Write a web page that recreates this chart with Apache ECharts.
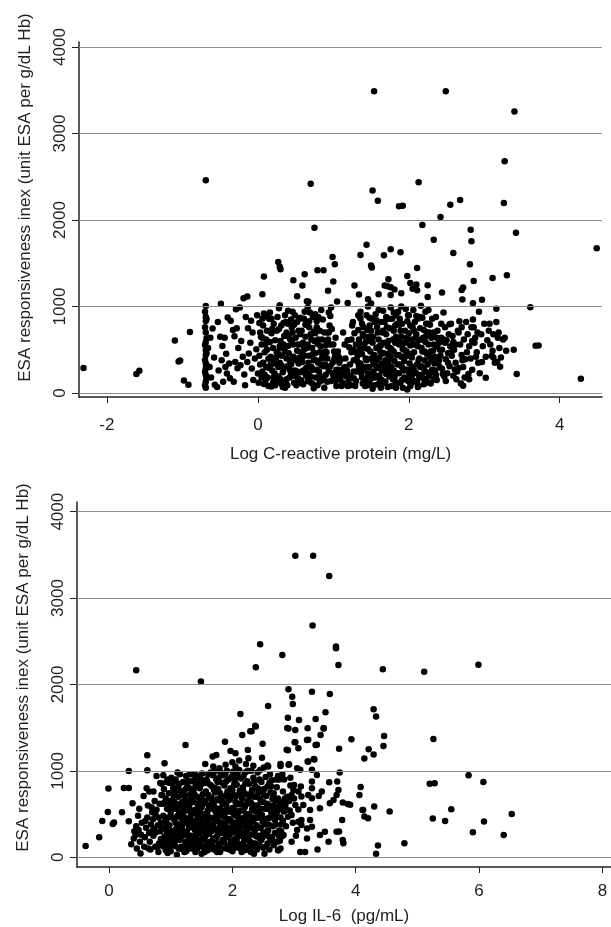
<!DOCTYPE html>
<html>
<head>
<meta charset="utf-8">
<script src="https://cdn.jsdelivr.net/npm/echarts@6/dist/echarts.min.js"></script>
<style>
  html, body { margin: 0; padding: 0; background: #fff; }
  #main { width: 611px; height: 927px; }
</style>
</head>
<body>
<div id="main"></div>
<script>
// tick labels
var crpTicks = [-2, 0, 2, 4];
var il6Ticks = [0, 2, 4, 6, 8];
var esaTicks = [0, 1000, 2000, 3000, 4000];

// top panel: log CRP vs ESA responsiveness
var crpSparse = [
  [1.54,3490],[2.49,3490],[3.40,3254],[-0.69,2461],[0.70,2419],[3.27,2680],[2.13,2438],[1.52,2342],
  [1.59,2223],[2.68,2231],[2.55,2177],[3.26,2196],[1.87,2158],[1.92,2165],[2.42,2035],[2.18,1942],
  [0.75,1911],[2.82,1888],[3.42,1854],[2.33,1773],[2.83,1754],[1.44,1715],[1.76,1661],[4.49,1673],
  [2.59,1619],[1.89,1627],[1.36,1596],[1.67,1592],[0.99,1573],[0.27,1515],[1.02,1488],[0.29,1461],
  [1.50,1473],[1.51,1450],[2.81,1488],[0.30,1430],[0.79,1419],[0.87,1419],[2.11,1446],[0.08,1346],
  [0.62,1373],[3.30,1361],[3.11,1331],[1.98,1354],[1.73,1315],[0.47,1304],[1.00,1288],[2.86,1296],
  [2.02,1273],[2.25,1246],[1.28,1242],[0.59,1242],[1.68,1242],[1.76,1223],[2.72,1219],[2.70,1192],
  [2.05,1204],[0.93,1181],[-0.14,1115],[-0.19,1096],[0.06,1142],[1.60,1142],[1.34,1138],[1.90,1154],
  [2.44,1161],[0.52,1119],[1.76,1134],[2.97,1077],[2.71,1081],[0.65,1061],[1.05,1058],[1.46,1085],
  [2.85,1038],[3.16,973],[3.61,992],[-0.49,1031],[1.81,1196],[2.10,1254],[1.72,1234],[2.11,1188],
  [1.50,1035],[1.19,1042],[0.29,1015],[0.67,1054],[2.25,1111],
  [-2.31,288],[-1.61,219],[-1.57,258],[-1.10,608],[-1.05,365],[-1.03,377],[-0.90,704],[-0.98,146],
  [-0.92,96],[3.72,550],[3.43,219],[4.28,165],[3.39,500],[3.02,177],[3.25,619],[3.21,304],[3.12,412],[3.68,546]
];
var crpDense = [
  [-0.69,1006],[-0.70,940],[-0.69,880],[-0.68,855],[-0.69,832],[-0.70,760],[-0.69,700],[-0.68,632],
  [-0.69,590],[-0.70,555],[-0.69,497],[-0.68,460],[-0.69,439],[-0.70,381],[-0.69,340],[-0.68,324],
  [-0.69,285],[-0.70,246],[-0.69,208],[-0.68,170],[-0.69,131],[-0.70,90],[-0.69,60],
  [-0.64,300],[-0.62,180],[-0.60,745],[-0.58,410],[-0.66,520],[-0.57,95],[-0.63,640],
  [-0.53,820],[-0.50,650],[-0.47,545],[-0.52,260],[-0.46,130],[-0.54,70],[-0.48,380],
  [-0.44,640],[-0.40,873],[-0.36,835],[-0.42,455],[-0.38,340],[-0.41,225],[-0.37,170],[-0.43,300],
  [-0.33,728],[-0.31,655],[-0.28,750],[-0.30,360],[-0.27,285],[-0.32,130],[-0.26,520],[-0.29,968],
  [-0.24,990],[-0.22,600],[-0.20,420],[-0.18,215],[-0.16,880],[-0.23,320],[-0.17,90],
  [-0.13,750],[-0.09,835],[-0.10,580],[-0.12,457],[-0.08,283],[-0.06,150],[-0.14,360],[-0.07,700],
  [-0.02,505],[0.00,226],[0.02,810],[0.04,650],[-0.04,400],[0.01,120],[0.03,330],[-0.01,900],[0.05,560],
  [0.07,780],[0.09,470],[0.11,300],[0.13,180],[0.06,640],[0.12,720],[0.14,395],[0.08,105],[0.10,560],
  [0.15,860],[0.06,250],[0.07,350],[0.13,880],[0.09,210],
  [0.16,930],[0.18,690],[0.20,520],[0.22,340],[0.24,150],[0.17,420],[0.19,260],[0.23,610],[0.21,800],
  [0.25,470],[0.18,75],[0.16,590],[0.22,230],[0.20,120],
  [0.26,880],[0.28,740],[0.30,600],[0.32,430],[0.34,280],[0.27,190],[0.29,350],[0.33,520],[0.35,660],
  [0.31,110],[0.28,980],[0.34,810],[0.30,160],[0.26,480],[0.33,70],
  [0.36,900],[0.38,700],[0.40,545],[0.42,380],[0.44,230],[0.37,130],[0.39,310],[0.43,620],[0.45,760],
  [0.41,460],[0.36,60],[0.44,850],[0.38,400],[0.42,180],[0.40,950],
  [0.46,940],[0.48,790],[0.50,640],[0.52,490],[0.54,340],[0.47,200],[0.49,260],[0.53,560],[0.55,410],
  [0.51,90],[0.46,700],[0.53,170],[0.50,380],[0.48,120],[0.55,860],
  [0.56,870],[0.58,720],[0.60,580],[0.62,430],[0.64,290],[0.57,150],[0.59,360],[0.63,650],[0.65,800],
  [0.61,500],[0.57,240],[0.62,940],[0.60,100],[0.58,470],[0.64,200],[0.56,680],
  [0.66,990],[0.68,830],[0.70,680],[0.72,520],[0.74,380],[0.67,230],[0.69,130],[0.73,450],[0.75,600],
  [0.71,300],[0.68,760],[0.74,55],[0.70,190],[0.66,560],[0.73,880],
  [0.76,910],[0.78,760],[0.80,620],[0.82,470],[0.84,320],[0.77,180],[0.79,90],[0.83,540],[0.85,400],
  [0.81,250],[0.76,690],[0.84,960],[0.80,350],[0.82,130],[0.78,830],
  [0.86,850],[0.88,700],[0.90,550],[0.92,400],[0.94,260],[0.87,150],[0.89,330],[0.93,620],[0.95,780],
  [0.91,470],[0.88,60],[0.94,930],[0.90,210],[0.86,420],[0.92,700],
  [0.96,890],[0.98,740],[1.00,560],[1.02,420],[1.04,270],[0.97,140],[0.99,350],[1.03,640],[1.05,200],
  [1.01,480],[0.97,990],[1.00,200],[0.96,310],[1.04,80],
  [1.06,480],[1.08,350],[1.10,210],[1.12,120],[1.14,290],[1.07,420],[1.09,160],[1.13,700],[1.15,560],[1.11,80],
  [1.16,400],[1.18,260],[1.20,130],[1.22,330],[1.24,470],[1.17,190],[1.19,610],[1.23,90],[1.25,780],[1.21,530],
  [1.26,820],[1.28,690],[1.30,560],[1.32,430],[1.34,300],[1.27,170],[1.29,80],[1.33,730],[1.35,880],
  [1.31,380],[1.27,250],[1.34,620],[1.30,140],[1.26,500],[1.33,350],
  [1.36,940],[1.38,800],[1.40,660],[1.42,520],[1.44,380],[1.37,230],[1.39,110],[1.43,590],[1.45,730],
  [1.41,300],[1.38,450],[1.44,170],[1.36,860],[1.40,270],[1.37,560],[1.42,80],
  [1.46,1000],[1.48,870],[1.50,720],[1.52,580],[1.54,440],[1.47,300],[1.49,160],[1.53,650],[1.55,360],
  [1.51,220],[1.46,510],[1.54,90],[1.48,780],[1.52,50],[1.50,400],[1.47,120],[1.53,250],
  [1.56,910],[1.58,760],[1.60,620],[1.62,480],[1.64,340],[1.57,200],[1.59,100],[1.63,550],[1.65,700],
  [1.61,410],[1.57,840],[1.64,260],[1.60,960],[1.62,150],[1.60,300],[1.57,520],[1.63,60],
  [1.66,950],[1.68,820],[1.70,680],[1.72,540],[1.74,400],[1.67,260],[1.69,130],[1.73,600],[1.75,750],
  [1.71,320],[1.67,460],[1.74,190],[1.70,880],[1.72,70],[1.70,220],[1.67,580],[1.73,350],
  [1.76,990],[1.78,860],[1.80,720],[1.82,580],[1.84,440],[1.77,300],[1.79,160],[1.83,650],[1.85,800],
  [1.81,370],[1.77,510],[1.84,230],[1.80,930],[1.82,100],[1.80,260],[1.76,420],[1.83,60],
  [1.86,940],[1.88,790],[1.90,650],[1.92,510],[1.94,370],[1.87,230],[1.89,120],[1.93,580],[1.95,720],
  [1.91,300],[1.87,440],[1.94,180],[1.90,1000],[1.92,60],[1.88,860],[1.90,420],[1.86,620],[1.93,260],
  [1.96,970],[1.98,830],[2.00,690],[2.02,550],[2.04,410],[1.97,270],[1.99,140],[2.03,620],[2.05,760],
  [2.01,340],[1.97,480],[2.04,200],[2.00,900],[2.02,80],[1.98,40],[2.00,240],[1.96,580],[2.03,110],
  [2.06,960],[2.08,820],[2.10,680],[2.12,540],[2.14,400],[2.07,260],[2.09,130],[2.13,610],[2.15,750],
  [2.11,330],[2.07,470],[2.14,190],[2.10,890],[2.12,70],[2.10,230],[2.06,560],[2.13,80],
  [2.16,1010],[2.18,870],[2.20,730],[2.22,590],[2.24,450],[2.17,310],[2.19,170],[2.23,660],[2.25,800],
  [2.21,380],[2.17,520],[2.24,240],[2.20,100],[2.22,940],[2.20,280],[2.16,620],[2.23,140],
  [2.26,960],[2.28,790],[2.30,640],[2.32,490],[2.34,340],[2.27,200],[2.29,110],[2.33,560],[2.35,420],
  [2.31,270],[2.27,700],[2.30,380],[2.26,560],[2.33,160],
  [2.36,880],[2.38,720],[2.40,580],[2.42,430],[2.44,280],[2.37,150],[2.39,360],[2.43,640],[2.45,220],[2.41,500],[2.36,208],
  [2.46,930],[2.48,760],[2.50,610],[2.52,460],[2.54,310],[2.47,190],[2.49,390],[2.53,680],[2.55,540],[2.54,796],
  [2.56,800],[2.58,660],[2.60,500],[2.62,350],[2.64,250],[2.57,430],[2.59,590],[2.63,160],[2.65,720],[2.61,273],
  [2.66,700],[2.68,560],[2.70,440],[2.72,300],[2.74,180],[2.67,830],[2.69,110],[2.73,620],[2.71,380],[2.72,85],
  [2.76,820],[2.78,680],[2.80,540],[2.82,400],[2.84,270],[2.77,470],[2.79,220],[2.83,760],[2.85,850],
  [2.86,760],[2.88,640],[2.90,470],[2.92,350],[2.94,230],[2.87,580],[2.89,420],[2.93,940],[2.91,700],
  [2.96,680],[2.98,540],[3.00,800],[3.02,420],[3.04,610],[2.97,360],
  [3.06,720],[3.08,560],[3.10,430],[3.12,680],[3.14,350],[3.07,800],[3.11,490],
  [3.16,820],[3.18,640],[3.20,520],[3.22,410],[3.17,360],[3.19,700],[3.27,640],[3.29,490]
];
var crpDenseMore = [
  [0.03,700],[0.05,180],[0.08,920],[0.11,620],[0.14,80],[0.17,330],[0.19,740],[0.21,180],[0.24,410],
  [0.27,300],[0.29,540],[0.31,780],[0.33,240],[0.36,480],[0.38,160],[0.40,800],[0.42,270],[0.45,590],
  [0.47,420],[0.49,900],[0.52,250],[0.54,720],[0.56,130],[0.58,390],[0.61,860],[0.63,230],[0.65,520],
  [0.67,350],[0.69,930],[0.72,110],[0.74,710],[0.76,460],[0.78,270],[0.80,880],[0.83,190],[0.85,620],
  [0.87,310],[0.89,480],[0.92,130],[0.94,700],[0.96,560],[0.99,230],[1.01,380],[1.03,140],[1.07,270],
  [1.10,390],[1.13,220],[1.16,300],[1.19,80],[1.22,200],[1.24,620],[1.27,380],[1.29,480],[1.31,250],
  [1.33,900],[1.36,340],[1.38,180],[1.40,760],[1.43,400],[1.45,90],[1.47,650],[1.49,480],[1.51,860],
  [1.53,330],[1.55,180],[1.57,380],[1.59,700],[1.61,200],[1.63,820],[1.65,460],[1.67,120],[1.69,380],
  [1.71,760],[1.73,250],[1.75,520],[1.77,80],[1.79,620],[1.81,180],[1.83,900],[1.85,330],[1.87,560],
  [1.89,720],[1.91,150],[1.93,420],[1.95,270],[1.97,640],[1.99,900],[2.01,180],[2.03,450],[2.05,300],
  [2.07,720],[2.09,560],[2.11,140],[2.13,380],[2.15,880],[2.17,210],[2.19,640],[2.21,480],[2.23,800],
  [2.25,330],[2.27,120],[2.29,480],[2.31,860],[2.33,700],[2.35,260],[2.37,540],[2.40,380],[2.43,800],
  [2.46,620],[2.49,140],[2.52,350],[2.56,470],[2.59,200],[2.62,560],[2.66,290],[2.70,760],[2.75,390],
  [2.80,160],[2.84,600],
  [0.02,430],[0.06,860],[0.10,140],[0.12,500],[0.15,290],[0.18,860],[0.21,380],[0.23,90],[0.25,720],
  [0.28,440],[0.31,320],[0.34,560],[0.37,820],[0.39,90],[0.41,650],[0.44,330],[0.47,560],[0.50,220],
  [0.52,820],[0.55,120],[0.57,560],[0.60,260],[0.63,790],[0.66,140],[0.68,430],[0.71,620],[0.73,270],
  [0.77,380],[0.79,570],[0.82,720],[0.85,150],[0.88,420],[0.91,600],[0.93,300],[1.35,500],[1.39,680],
  [1.41,140],[1.44,900],[1.46,230],[1.49,600],[1.52,380],[1.55,820],[1.58,290],[1.61,540],[1.64,150],
  [1.66,720],[1.69,300],[1.72,450],[1.74,860],[1.77,200],[1.80,480],[1.82,780],[1.85,120],[1.88,330],
  [1.91,800],[1.94,500],[1.96,160],[1.99,430],[2.02,780],[2.04,300],[2.07,140],[2.09,640],[2.12,860],
  [2.15,300],[2.18,480],[2.21,160],[2.24,700],[2.28,420],[2.32,240],[2.37,640],[2.41,300],[2.44,500],
  [2.48,580],[2.51,230]
];

// bottom panel: log IL-6 vs ESA responsiveness
var il6Sparse = [
  [3.02,3490],[3.31,3490],[3.57,3255],[3.30,2681],[2.45,2465],[3.68,2438],[3.68,2418],[2.81,2341],
  [3.72,2225],[5.99,2229],[2.38,2198],[4.44,2175],[0.44,2164],[5.11,2148],[1.49,2033],[2.91,1944],
  [3.29,1917],[3.58,1890],[2.97,1859],[2.98,1774],[2.58,1751],[4.29,1712],[3.51,1678],[2.13,1658],
  [4.33,1628],[2.90,1616],[3.08,1589],[3.35,1601],[2.38,1512],[3.22,1493],[3.48,1489],[2.91,1489],
  [3.02,1473],[2.29,1458],[2.16,1416],[3.43,1416],[4.46,1404],[5.26,1369],[3.93,1365],[3.21,1358],
  [3.02,1331],[1.88,1338],[1.24,1300],[2.49,1315],[3.35,1300],[4.45,1288],[4.21,1250],[3.73,1257],
  [2.25,1242],[2.90,1238],[3.07,1261],[1.97,1230],[2.05,1203],[4.29,1188],[0.62,1180],[1.68,1165],
  [1.74,1184],[2.48,1153],[4.14,1142],[2.26,1146],[3.33,1130],[3.22,1107],[1.56,1080],[2.92,1076],
  [0.90,1088],[2.57,1061],[2.78,1057],[3.05,1030],[0.32,999],[0.62,1007],[5.83,949],[6.07,872],
  [5.20,852],[5.28,856],[3.74,980],[4.08,814],[-0.01,795],[0.24,802],[0.32,802],[6.53,501],
  [5.55,555],[4.55,528],[4.12,548],[4.30,586],[6.08,413],[5.25,447],[5.45,420],[4.14,471],[4.20,451],
  [5.90,289],[6.40,258],[4.79,162],[4.36,135],[4.33,39],[-0.38,131],[-0.16,231],[-0.11,420],[0.08,401],
  [-0.02,525],[0.21,521],[0.32,416],[0.38,625],[0.56,710],[3.79,633],[3.87,617],[3.91,609],[3.78,432],
  [3.73,297],[3.79,200],[3.80,162],[0.06,384],[4.06,721],[4.11,547],[2.89,1496],[3.01,1330],[3.23,1360],
  [3.37,1302],[2.31,1457],[2.37,1523],[3.48,1496],[2.88,1244],[2.91,1070],[3.23,1109],[3.32,1136],
  [2.78,1078],[2.58,1050],[2.34,1058],[3.10,1012],[3.29,1012]
];
var il6Dense = [
  [0.40,217],[0.43,256],[0.44,360],[0.45,101],[0.41,300],[0.36,150],
  [0.48,314],[0.51,43],[0.50,180],[0.53,400],[0.47,480],[0.52,260],[0.49,560],
  [0.57,120],[0.60,340],[0.62,460],[0.64,101],[0.58,230],[0.63,600],[0.61,800],[0.59,420],[0.65,280],
  [0.66,180],[0.68,380],[0.70,520],[0.72,250],[0.74,650],[0.67,90],[0.71,440],[0.73,330],[0.75,120],
  [0.69,580],[0.72,760],
  [0.76,290],[0.78,120],[0.80,460],[0.82,620],[0.84,210],[0.77,550],[0.79,370],[0.83,860],[0.85,720],
  [0.81,160],[0.77,940],[0.84,400],[0.80,60],
  [0.86,330],[0.88,480],[0.90,240],[0.92,680],[0.94,560],[0.87,130],[0.89,790],[0.93,400],[0.95,900],
  [0.91,180],[0.87,620],[0.94,290],[0.88,950],[0.92,80],
  [0.96,220],[0.98,370],[1.00,520],[1.02,660],[1.04,800],[0.97,130],[0.99,600],[1.03,300],[1.05,440],
  [1.01,920],[0.97,740],[1.04,170],[1.00,70],[0.98,860],[1.02,250],[1.05,560],
  [1.06,260],[1.08,400],[1.10,560],[1.12,700],[1.14,850],[1.07,130],[1.09,330],[1.13,470],[1.15,620],
  [1.11,980],[1.07,760],[1.14,200],[1.10,30],[1.08,900],[1.12,290],[1.15,380],[1.06,640],[1.13,100],
  [1.16,210],[1.18,350],[1.20,500],[1.22,650],[1.24,790],[1.17,120],[1.19,430],[1.23,280],[1.25,940],
  [1.21,570],[1.17,720],[1.24,170],[1.20,870],[1.22,60],[1.18,270],[1.25,400],[1.16,600],[1.23,720],
  [1.26,300],[1.28,440],[1.30,590],[1.32,730],[1.34,880],[1.27,150],[1.29,370],[1.33,510],[1.35,220],
  [1.31,960],[1.27,660],[1.34,100],[1.30,800],[1.32,250],[1.28,540],[1.35,420],[1.26,90],[1.33,640],[1.29,190],
  [1.36,250],[1.38,400],[1.40,550],[1.42,700],[1.44,850],[1.37,120],[1.39,320],[1.43,480],[1.45,620],
  [1.41,950],[1.37,770],[1.44,180],[1.40,60],[1.38,890],[1.42,290],[1.45,380],[1.36,640],[1.43,100],
  [1.39,200],[1.41,520],
  [1.46,280],[1.48,430],[1.50,580],[1.52,730],[1.54,880],[1.47,140],[1.49,350],[1.53,500],[1.55,650],
  [1.51,970],[1.47,800],[1.54,210],[1.50,40],[1.48,910],[1.52,300],[1.55,400],[1.46,680],[1.53,120],
  [1.51,220],[1.47,550],
  [1.56,240],[1.58,390],[1.60,540],[1.62,690],[1.64,840],[1.57,110],[1.59,310],[1.63,460],[1.65,610],
  [1.61,960],[1.57,760],[1.64,180],[1.60,80],[1.58,900],[1.62,270],[1.65,360],[1.56,630],[1.63,130],
  [1.59,500],[1.61,720],
  [1.66,300],[1.68,450],[1.70,600],[1.72,750],[1.74,900],[1.67,160],[1.69,370],[1.73,520],[1.75,670],
  [1.71,990],[1.67,820],[1.74,230],[1.70,90],[1.68,950],[1.72,320],[1.75,430],[1.66,690],[1.73,110],
  [1.69,1050],[1.71,560],
  [1.76,260],[1.78,410],[1.80,560],[1.82,710],[1.84,860],[1.77,130],[1.79,340],[1.83,480],[1.85,630],
  [1.81,980],[1.77,790],[1.84,200],[1.80,60],[1.78,920],[1.82,280],[1.85,390],[1.76,660],[1.83,100],
  [1.79,1030],[1.81,520],
  [1.86,310],[1.88,460],[1.90,610],[1.92,760],[1.94,900],[1.87,170],[1.89,380],[1.93,530],[1.95,680],
  [1.91,1000],[1.87,830],[1.94,240],[1.90,100],[1.88,960],[1.92,330],[1.95,440],[1.86,700],[1.93,130],
  [1.91,560],[1.89,1070],
  [1.96,270],[1.98,420],[2.00,570],[2.02,720],[2.04,870],[1.97,140],[1.99,350],[2.03,490],[2.05,640],
  [2.01,990],[1.97,800],[2.04,210],[2.00,70],[1.98,930],[2.02,290],[2.05,400],[1.96,670],[2.03,110],
  [2.00,1100],[1.99,520],
  [2.06,320],[2.08,470],[2.10,620],[2.12,770],[2.14,910],[2.07,180],[2.09,390],[2.13,540],[2.15,690],
  [2.11,1010],[2.07,840],[2.14,250],[2.10,110],[2.08,970],[2.12,340],[2.15,450],[2.06,710],[2.13,140],
  [2.11,1120],
  [2.16,280],[2.18,430],[2.20,580],[2.22,730],[2.24,880],[2.17,150],[2.19,360],[2.23,500],[2.25,650],
  [2.21,980],[2.17,810],[2.24,220],[2.20,80],[2.18,940],[2.22,300],[2.25,410],[2.16,680],[2.23,120],
  [2.22,1080],
  [2.26,330],[2.28,480],[2.30,630],[2.32,780],[2.34,920],[2.27,190],[2.29,400],[2.33,550],[2.35,700],
  [2.31,1000],[2.27,850],[2.34,260],[2.30,60],[2.28,260],[2.32,120],[2.35,460],
  [2.36,300],[2.38,450],[2.40,600],[2.42,750],[2.44,900],[2.37,160],[2.39,370],[2.43,520],[2.45,670],
  [2.41,980],[2.37,820],[2.44,220],[2.40,90],[2.38,530],[2.42,250],
  [2.46,340],[2.48,490],[2.50,640],[2.52,790],[2.54,930],[2.47,200],[2.49,410],[2.53,560],[2.55,710],
  [2.51,1040],[2.47,870],[2.54,270],[2.50,110],[2.52,40],
  [2.56,300],[2.58,450],[2.60,600],[2.62,750],[2.64,890],[2.57,160],[2.59,380],[2.63,520],[2.65,670],
  [2.61,960],[2.57,820],[2.64,230],[2.60,90],
  [2.66,360],[2.68,510],[2.70,660],[2.72,810],[2.74,940],[2.67,140],[2.69,430],[2.73,580],[2.75,250],
  [2.71,900],[2.67,740],[2.74,80],[2.73,178],
  [2.76,310],[2.78,460],[2.80,610],[2.82,760],[2.84,900],[2.77,190],[2.79,380],[2.83,530],[2.85,680],
  [2.81,960],[2.78,101],[2.75,81],[2.83,256],
  [2.86,605],[2.88,547],[2.90,470],[2.92,650],[2.94,830],[2.87,360],[2.89,700],[2.93,540],[2.96,721],
  [2.96,488],[2.96,178],[2.94,920],
  [3.00,837],[2.99,779],[3.02,605],[3.05,314],[2.98,400],[3.03,250],[3.00,680],
  [3.07,760],[3.11,818],[3.12,702],[3.07,554],[3.12,372],[3.07,411],[3.12,430],[3.15,605],[3.10,62],[3.18,62],
  [3.21,217],[3.21,333],[3.29,353],[3.26,430],[3.23,721],[3.26,547],[3.29,682],[3.29,798],[3.29,876],
  [3.38,89],[3.37,953],[3.40,709],
  [3.42,566],[3.45,760],[3.42,256],[3.50,295],[3.56,178],[3.57,868],[3.58,624],[3.64,663],[3.69,721],
  [3.72,779],[3.70,876],[3.69,295]
];
var il6DenseMore = [
  [0.83,300],[0.86,720],[0.89,160],[0.91,420],[0.93,870],[0.96,460],[0.98,120],[1.00,300],[1.02,860],
  [1.04,580],[1.06,170],[1.08,600],[1.10,320],[1.12,820],[1.14,520],[1.16,100],[1.18,760],[1.20,250],
  [1.22,460],[1.24,600],[1.26,180],[1.28,880],[1.30,340],[1.32,470],[1.34,700],[1.36,520],[1.38,150],
  [1.40,820],[1.42,420],[1.44,300],[1.46,930],[1.48,190],[1.50,700],[1.52,470],[1.54,330],[1.56,860],
  [1.58,170],[1.60,430],[1.62,590],[1.64,330],[1.66,120],[1.68,560],[1.70,780],[1.72,200],[1.74,470],
  [1.76,870],[1.78,300],[1.80,740],[1.82,400],[1.84,620],[1.86,190],[1.88,540],[1.90,880],[1.92,230],
  [1.94,660],[1.96,430],[1.98,180],[2.00,780],[2.02,370],[2.04,540],[2.06,930],[2.08,230],[2.10,520],
  [2.12,150],[2.14,620],[2.16,380],[2.18,760],[2.20,240],[2.22,480],[2.24,620],[2.26,90],[2.28,700],
  [2.30,340],[2.32,560],[2.34,160],[2.36,880],[2.38,330],[2.40,700],[2.42,460],[2.44,140],[2.46,560],
  [2.48,780],[2.50,280],[2.52,440],[2.54,120],[2.56,620],[2.58,310],[2.60,860],[2.62,200],[2.64,540],
  [2.66,720],[2.68,180],[2.70,380],[2.72,520],[2.74,680],[2.76,900],[2.78,560],[2.80,240],[2.82,420],
  [2.84,650],[1.05,720],[1.15,960],[1.25,70],[1.35,960],[1.45,530],[1.55,60],[1.65,980],[1.75,60],
  [1.85,950],[1.95,90],[2.05,1050],[2.15,60],[2.25,1000],[2.35,40],[2.45,1010],[0.75,500],[0.70,300],
  [0.65,760],[0.95,50],[0.90,630],
  [0.85,850],[0.92,350],[0.97,640],[1.01,180],[1.03,460],[1.07,880],[1.09,230],[1.11,480],[1.13,780],
  [1.17,330],[1.19,640],[1.21,120],[1.23,400],[1.27,820],[1.29,250],[1.31,550],[1.33,160],[1.37,360],
  [1.39,720],[1.41,230],[1.43,620],[1.47,370],[1.49,840],[1.51,120],[1.53,620],[1.57,480],[1.59,880],
  [1.61,150],[1.63,380],[1.67,650],[1.69,220],[1.71,420],[1.73,800],[1.77,560],[1.79,160],[1.81,660],
  [1.83,340],[1.87,500],[1.89,260],[1.91,720],[1.93,440],[1.97,330],[1.99,710],[2.01,140],[2.03,840],
  [2.07,610],[2.09,300],[2.11,730],[2.13,420],[2.17,540],[2.19,200],[2.21,850],[2.23,380],[2.27,500],
  [2.29,180],[2.31,750],[2.33,420],[2.37,600],[2.39,240],[2.41,800],[2.43,340],[2.47,640],[2.49,230],
  [2.51,720],[2.53,380],[2.57,560],[2.59,240],[2.61,460],[2.63,820],[2.67,600],[2.69,280],[2.71,460],
  [2.77,640],[2.79,300]
];

var chart = echarts.init(document.getElementById('main'));

var font = "'Liberation Sans', Arial, sans-serif";
var ink = '#222';

function plain(v) { return String(v); }

function xAxisFor(gridIndex, min, max, ticks, name, labelMargin, nameGap) {
  return {
    gridIndex: gridIndex, type: 'value', min: min, max: max,
    name: name, nameLocation: 'middle', nameGap: nameGap,
    nameTextStyle: { fontFamily: font, fontSize: 17, color: ink },
    axisLine: { show: true, onZero: false, lineStyle: { color: ink, width: 1.5 } },
    axisTick: { show: true, length: 6, customValues: ticks, lineStyle: { color: ink } },
    axisLabel: { customValues: ticks, formatter: plain, margin: labelMargin, fontFamily: font, fontSize: 17, color: ink },
    splitLine: { show: false }
  };
}

// titleShift: the y title sits a bit above the middle of the axis in the original
function yAxisFor(gridIndex, min, max, titleShift) {
  return {
    gridIndex: gridIndex, type: 'value', min: min, max: max,
    name: 'ESA responsiveness inex (unit ESA per g/dL Hb)',
    nameLocation: 'middle', nameRotate: 90, nameGap: 45,
    nameTextStyle: { fontFamily: font, fontSize: 17, color: ink, padding: [0, 0, 0, titleShift * 2] },
    axisLine: { show: true, onZero: false, lineStyle: { color: ink, width: 1.5 } },
    axisTick: { show: true, length: 7, customValues: esaTicks, lineStyle: { color: ink } },
    axisLabel: { customValues: esaTicks, formatter: plain, rotate: 90, margin: 10, fontFamily: font, fontSize: 17, color: ink },
    splitLine: { show: false }
  };
}

function gridLines() {
  return {
    silent: true, symbol: ['none', 'none'], animation: false,
    label: { show: false },
    lineStyle: { color: '#8c8c8c', type: 'solid', width: 1 },
    data: esaTicks.map(function(v) { return { yAxis: v }; })
  };
}

var option = {
  animation: false,
  backgroundColor: '#fff',
  grid: [
    { left: 79, top: 42, width: 523, height: 355 },
    { left: 77, top: 502, width: 534, height: 365 }
  ],
  xAxis: [
    xAxisFor(0, -2.37, 4.56, crpTicks, 'Log C-reactive protein (mg/L)', 20, 49),
    xAxisFor(1, -0.52, 8.14, il6Ticks, 'Log IL-6  (pg/mL)', 16, 41)
  ],
  yAxis: [
    yAxisFor(0, -46, 4058, 22),
    yAxisFor(1, -113, 4112, 17)
  ],
  series: [
    {
      type: 'scatter', xAxisIndex: 0, yAxisIndex: 0,
      symbol: 'circle', symbolSize: 6.5,
      itemStyle: { color: '#000', opacity: 1 },
      data: crpSparse.concat(crpDense, crpDenseMore),
      markLine: gridLines()
    },
    {
      type: 'scatter', xAxisIndex: 1, yAxisIndex: 1,
      symbol: 'circle', symbolSize: 6.5,
      itemStyle: { color: '#000', opacity: 1 },
      data: il6Sparse.concat(il6Dense, il6DenseMore),
      markLine: gridLines()
    }
  ]
};

chart.setOption(option);
</script>
</body>
</html>
